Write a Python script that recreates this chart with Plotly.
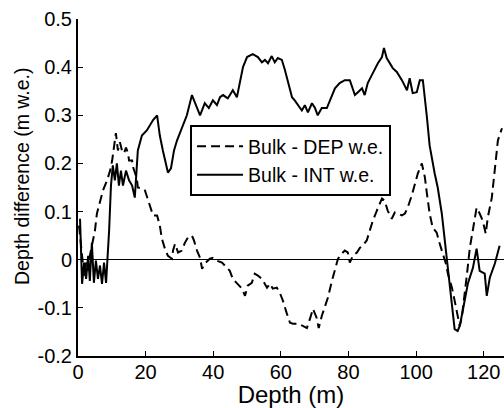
import plotly.graph_objects as go

# Bulk - DEP w.e. (dashed)
dep_x = [0.3, 1.2, 1.8, 2.4, 3.0, 3.5, 4.1, 5.0, 5.6, 6.5, 7.4, 8.6, 9.5, 10.1, 10.6, 11.2, 11.8, 12.4,
         13.0, 13.6, 14.2, 14.8, 15.1, 16.0, 16.3, 17.4, 17.7, 18.9, 19.8, 20.7, 21.3, 22.2, 23.4, 24.2,
         24.8, 25.7, 26.6, 27.8, 28.1, 28.7, 29.6, 30.7, 31.6, 32.5, 33.7, 34.3, 35.2, 36.1, 36.7, 37.5,
         39.0, 39.9, 41.1, 42.6, 44.1, 44.9, 45.8, 47.0, 47.9, 48.5, 49.4, 50.2, 51.4, 52.3, 53.2, 54.4,
         55.9, 56.8, 57.6, 58.8, 59.7, 60.6, 61.8, 62.7, 63.6, 65.0, 66.5, 67.7, 68.6, 69.5, 70.6, 71.2,
         72.1, 73.0, 73.9, 75.1, 76.0, 76.9, 78.0, 78.9, 79.8, 80.4, 81.3, 82.5, 83.4, 84.2, 85.4, 86.3,
         87.2, 88.4, 89.3, 89.9, 90.7, 91.6, 92.8, 93.7, 94.6, 95.8, 96.7, 97.5, 98.7, 99.6, 100.5, 101.7,
         102.6, 103.2, 104.0, 104.9, 106.1, 107.0, 107.9, 108.8, 109.4, 110.6, 111.4, 112.3, 112.9, 113.5,
         114.4, 115.0, 115.9, 116.8, 117.9, 118.8, 119.7, 120.6, 121.2, 122.4, 123.3, 124.2, 125.4]
dep_y = [0.071, 0.008, -0.033, -0.006, -0.023, 0.008, 0.029, 0.060, 0.096, 0.123, 0.144, 0.165, 0.185,
         0.206, 0.233, 0.263, 0.227, 0.244, 0.227, 0.221, 0.233, 0.221, 0.206, 0.206, 0.192, 0.169, 0.150,
         0.148, 0.144, 0.123, 0.108, 0.092, 0.092, 0.071, 0.044, 0.023, 0.008, 0.002, 0.019, 0.033, 0.015,
         0.019, 0.035, 0.046, 0.050, 0.040, 0.019, 0.004, -0.019, -0.008, 0.002, 0.004, -0.002, -0.006,
         -0.017, -0.023, -0.040, -0.048, -0.054, -0.060, -0.075, -0.054, -0.048, -0.029, -0.033, -0.040,
         -0.058, -0.050, -0.060, -0.058, -0.069, -0.085, -0.1125, -0.131, -0.133, -0.133, -0.1375, -0.142,
         -0.123, -0.102, -0.121, -0.142, -0.117, -0.100, -0.079, -0.044, -0.019, 0.002, 0.0125, 0.019,
         0.015, -0.006, 0.008, 0.015, 0.025, 0.029, 0.040, 0.060, 0.081, 0.102, 0.119, 0.127, 0.123, 0.102,
         0.085, 0.098, 0.096, 0.092, 0.096, 0.108, 0.133, 0.154, 0.179, 0.200, 0.171, 0.1375, 0.096, 0.067,
         0.056, 0.033, 0.0125, -0.008, -0.029, -0.058, -0.085, -0.117, -0.1375, -0.121, -0.075, -0.033,
         0.025, 0.067, 0.108, 0.096, 0.081, 0.054, 0.0875, 0.129, 0.185, 0.248, 0.273]

# Bulk - INT w.e. (solid)
int_x = [0.6, 1.2, 1.8, 2.4, 3.0, 3.5, 4.1, 4.7, 5.3, 5.9, 6.5, 7.1, 7.7, 8.3, 9.2, 9.75, 10.3, 10.9,
         11.5, 12.1, 12.7, 13.3, 14.2, 15.1, 16.0, 16.8, 17.7, 18.9, 20.4, 21.3, 22.2, 23.4, 24.2, 25.1,
         26.0, 26.6, 27.5, 28.4, 29.3, 30.7, 32.2, 33.7, 35.2, 36.1, 37.5, 38.7, 39.9, 41.1, 42.0, 42.9,
         44.3, 45.8, 47.0, 47.9, 48.8, 50.0, 51.7, 53.2, 54.4, 55.3, 56.2, 57.3, 58.2, 59.1, 60.3, 61.2,
         62.1, 63.3, 64.1, 65.0, 66.2, 67.1, 68.0, 69.2, 70.1, 70.9, 72.1, 73.6, 74.5, 76.0, 77.4, 78.9,
         80.4, 81.9, 82.8, 84.0, 84.8, 85.7, 87.2, 88.7, 89.9, 90.5, 91.3, 92.2, 93.1, 94.3, 95.8, 97.3,
         98.1, 99.0, 100.2, 101.1, 102.0, 103.2, 104.0, 105.5, 106.4, 107.6, 108.5, 109.1, 110.0, 110.8,
         111.4, 112.3, 112.9, 113.8, 115.3, 116.8, 117.9, 118.8, 120.3, 120.9, 121.8, 123.3, 124.7]
int_y = [0.085, -0.05, -0.006, -0.04, 0.008, -0.044, 0.035, -0.048, -0.002, -0.04, -0.012, -0.05, -0.006,
         -0.048, 0.06, 0.154, 0.196, 0.165, 0.2, 0.154, 0.185, 0.154, 0.185, 0.165, 0.154, 0.129, 0.227,
         0.258, 0.269, 0.279, 0.29, 0.30, 0.258, 0.227, 0.196, 0.181, 0.19, 0.227, 0.248, 0.275, 0.30,
         0.342, 0.317, 0.30, 0.325, 0.315, 0.331, 0.321, 0.3375, 0.342, 0.335, 0.352, 0.3375, 0.369, 0.40,
         0.421, 0.427, 0.421, 0.41, 0.415, 0.408, 0.423, 0.41, 0.419, 0.415, 0.394, 0.367, 0.3375, 0.331,
         0.321, 0.31, 0.321, 0.306, 0.325, 0.315, 0.30, 0.315, 0.315, 0.331, 0.356, 0.367, 0.373, 0.373,
         0.342, 0.348, 0.356, 0.342, 0.367, 0.3875, 0.408, 0.421, 0.44, 0.419, 0.408, 0.398, 0.39, 0.373,
         0.352, 0.377, 0.346, 0.348, 0.373, 0.373, 0.296, 0.2375, 0.179, 0.15, 0.096, 0.04, -0.008, -0.058,
         -0.117, -0.144, -0.148, -0.1375, -0.106, -0.05, -0.017, 0.023, -0.023, -0.029, -0.075, -0.0375,
         -0.008, 0.029]

x_ticks = [0, 20, 40, 60, 80, 100, 120]
y_ticks = [-0.2, -0.1, 0, 0.1, 0.2, 0.3, 0.4, 0.5]
y_tick_text = ["-0.2", "-0.1", "0", "0.1", "0.2", "0.3", "0.4", "0.5"]

FONT = "Liberation Sans, Arial, sans-serif"

fig = go.Figure()
fig.add_trace(go.Scatter(x=dep_x, y=dep_y, mode="lines", name="Bulk - DEP w.e.",
                         line=dict(color="black", width=2, dash="9px,5px")))
fig.add_trace(go.Scatter(x=int_x, y=int_y, mode="lines", name="Bulk - INT w.e.",
                         line=dict(color="black", width=2)))

fig.update_layout(
    width=504, height=408,
    margin=dict(l=78, r=0, t=19, b=52),
    paper_bgcolor="white", plot_bgcolor="white",
    font=dict(family=FONT, size=20, color="black"),
    showlegend=True,
    legend=dict(x=0.263, y=0.685, xanchor="left", yanchor="top",
                bgcolor="white", bordercolor="black", borderwidth=2,
                font=dict(size=19.5), tracegroupgap=0, itemwidth=46),
    xaxis=dict(range=[0, 126], tickvals=x_ticks, ticks="inside", ticklen=5,
               tickcolor="black", showline=True, linecolor="black", linewidth=2,
               showgrid=False, zeroline=False, mirror=False, ticklabelstandoff=-3,
               title=dict(text="Depth (m)", standoff=3), tickfont=dict(size=20)),
    yaxis=dict(range=[-0.2, 0.5], tickvals=y_ticks, ticktext=y_tick_text, ticks="inside",
               ticklen=5, tickcolor="black", showline=True, linecolor="black", linewidth=2,
               showgrid=False, zeroline=True, zerolinecolor="black", zerolinewidth=1,
               mirror=False, tickfont=dict(size=20)),
    annotations=[dict(text="Depth difference (m w.e.)", textangle=-90,
                      xref="paper", yref="paper", x=(22 - 78) / 426, y=(356 - 176) / 337,
                      xanchor="center", yanchor="middle", showarrow=False,
                      font=dict(size=19.5, family=FONT, color="black"))],
)

fig.write_html("out.html", config={"displayModeBar": False})

# remove the default page margin so the figure sits at the window's top-left corner
with open("out.html", "r", encoding="utf-8") as f:
    html = f.read()
html = html.replace("<body>", '<body style="margin:0;padding:0;overflow:hidden">', 1)
with open("out.html", "w", encoding="utf-8") as f:
    f.write(html)
